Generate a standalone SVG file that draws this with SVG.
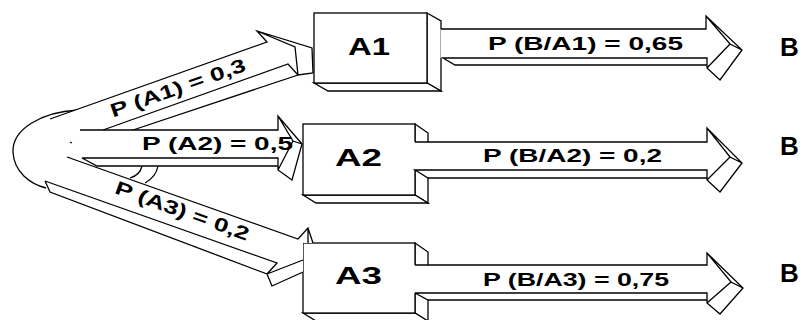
<svg xmlns="http://www.w3.org/2000/svg" width="803" height="320" viewBox="0 0 803 320">
<style>
 .f{fill:#fff;stroke:none}
 .s{fill:none;stroke:#000;stroke-width:1.3;stroke-linejoin:miter}
 .p{fill:#fff;stroke:#000;stroke-width:1.3}
 text{font-family:"Liberation Sans",Arial,sans-serif;font-weight:bold;fill:#000}
 .lbl{font-size:19px}
 .box{font-size:23px}
 .b{font-size:26px}
</style>
<rect width="803" height="320" fill="#fff"/>
<g id="nodes">
 <g id="node-A1">
  <polygon class="p" points="427,13 441,21 441,91 427,83"/>
  <polygon class="p" points="314,83 328,91 441,91 427,83"/>
  <rect class="p" x="314" y="13" width="113" height="70"/>
  <text class="box" x="369" y="55" text-anchor="middle" textLength="42" lengthAdjust="spacingAndGlyphs">A1</text>
 </g>
 <g id="node-A2">
  <polygon class="p" points="415,124 428,133 428,203 415,195"/>
  <polygon class="p" points="303,195 316,203 428,203 415,195"/>
  <rect class="p" x="303" y="124" width="112" height="71"/>
  <text class="box" x="358.5" y="166" text-anchor="middle" textLength="47" lengthAdjust="spacingAndGlyphs">A2</text>
 </g>
 <g id="node-A3">
  <polygon class="p" points="415,243 428,252 428,322 415,313"/>
  <polygon class="p" points="303,313 316,321 428,321 415,313"/>
  <rect class="p" x="303" y="243" width="112" height="70"/>
  <text class="box" x="358.5" y="284" text-anchor="middle" textLength="47" lengthAdjust="spacingAndGlyphs">A3</text>
 </g>
 <g id="node-B1"><text class="b" x="780" y="56">B</text></g>
 <g id="node-B2"><text class="b" x="780" y="155">B</text></g>
 <g id="node-B3"><text class="b" x="780" y="282">B</text></g>
</g>
<g id="connectors">
 <path class="s" d="M78,110 C40,112 12,130 13,152 C14,172 30,184 46,188"/>
 <g id="edge-S-A1">
  <polygon class="f" points="50,119 267,42 257,31 312,48 313,73 298,75 130,131 80,131"/>
  <path class="s" d="M50,119 L267,42 L257,31 L312,48 L313,73 L298,75 L295,47 L257,31 M103,130 L288,64 L298,75 L130,131"/>
  <text class="lbl" transform="translate(180,94) rotate(-19.3)" text-anchor="middle" textLength="142" lengthAdjust="spacingAndGlyphs">P (A1) = 0,3</text>
 </g>
 <g id="edge-S-A3">
  <polygon class="f" points="67,157 298,239 308,228 313,243 303,243 303,272 272,286 267,274 50,192 45,181"/>
  <path class="s" d="M67,157 L298,239 L308,228 L313,243 M308,228 L308,243 M45,181 L277,263 L267,274 L303,260 M45,181 L50,192 L267,274 L272,286 L303,272"/>
  <text class="lbl" transform="translate(180,217) rotate(19.8)" text-anchor="middle" textLength="141" lengthAdjust="spacingAndGlyphs">P (A3) = 0,2</text>
 </g>
 <path class="s" d="M142,166 Q140,175 130,178 M158,166 Q156,177 145,183 M70,142 L72,143"/>
 <g id="edge-S-A2">
  <polygon class="f" points="80,130 278,130 278,116 302,144 292,180 278,170 278,166 97,166 82,158"/>
  <path class="s" d="M80,130 L278,130 L278,116 L302,144 L292,180 L278,170 L278,158 L82,158 L97,166 L278,166 M278,116 L293,141 L302,144 M293,141 L278,170"/>
  <text class="lbl" x="217.5" y="150" text-anchor="middle" textLength="151" lengthAdjust="spacingAndGlyphs">P (A2) = 0,5</text>
 </g>
 <g id="edge-A1-B">
  <polygon class="f" points="440.5,29 706,29 706,16 742,50 720,80 707,68 707,65 455,65 443,58 440.5,58"/>
  <path class="s" d="M441,29 L706,29 L706,16 L742,50 L720,80 L707,68 L707,58 L443,58 L455,65 L707,65 M706,16 L730,44 L742,50 M730,44 L707,68"/>
  <text class="lbl" x="585.5" y="50" text-anchor="middle" textLength="195" lengthAdjust="spacingAndGlyphs">P (B/A1) = 0,65</text>
 </g>
 <g id="edge-A2-B">
  <polygon class="f" points="414,142 707,142 707,128 742,163 720,192 707,180 707,178 428,178 415,170 414,170"/>
  <path class="s" d="M415,142 L707,142 L707,128 L742,163 L720,192 L707,180 L707,170 L415,170 L428,178 L707,178 M707,128 L730,157 L742,163 M730,157 L707,180"/>
  <text class="lbl" x="572.5" y="162" text-anchor="middle" textLength="179" lengthAdjust="spacingAndGlyphs">P (B/A2) = 0,2</text>
 </g>
 <g id="edge-A3-B">
  <polygon class="f" points="414,265 707,265 707,253 743,288 720,314 707,303 707,300 428,300 415,293 414,293"/>
  <path class="s" d="M415,265 L707,265 L707,253 L743,288 L720,314 L707,303 L707,293 L415,293 L428,300 L707,300 M707,253 L731,282 L743,288 M731,282 L707,303"/>
  <text class="lbl" x="576" y="286" text-anchor="middle" textLength="186" lengthAdjust="spacingAndGlyphs">P (B/A3) = 0,75</text>
 </g>
</g>
</svg>
